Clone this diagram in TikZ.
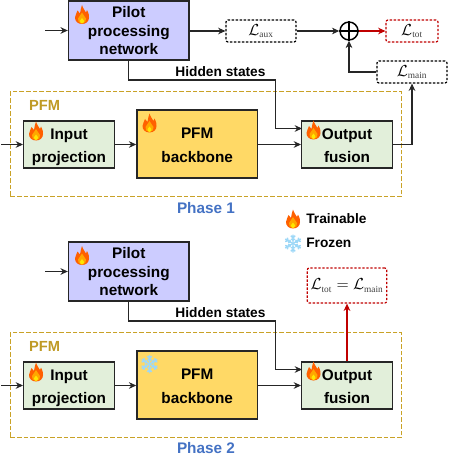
\documentclass[tikz,border=0pt]{standalone}
\usepackage{fontspec}
\newfontfamily\labelfont[BoldFont={Liberation Sans Bold}]{Liberation Sans}
\newfontfamily\subfont{Liberation Serif}
\usetikzlibrary{arrows.meta}
\definecolor{pilotblue}{HTML}{CCCCFF}
\definecolor{blockgreen}{HTML}{E2EFDA}
\definecolor{blockyellow}{HTML}{FFD966}
\definecolor{pfmgold}{HTML}{C9A227}
\definecolor{phaseblue}{HTML}{4472C4}
\definecolor{lossred}{HTML}{C00000}
\definecolor{frostblue}{HTML}{9ED8F7}
\newcommand{\lossname}[1]{\mathcal{L}_{\hbox{\subfont\fontsize{7}{7}\selectfont\color{black!75}#1}}}
\newcommand{\topstrut}[1]{\rule{0pt}{#1pt}}
\tikzset{
  block/.style={draw=black!85,line width=1.1pt,inner sep=0pt,align=center,font=\labelfont\bfseries\fontsize{11.5}{17}\selectfont,
    execute at end node={\rule[-2.4pt]{0pt}{0pt}}},
  pilotblock/.style={block,fill=pilotblue,minimum width=90.4pt,minimum height=44.3pt,font=\labelfont\bfseries\fontsize{11.5}{13.9}\selectfont},
  greenblock/.style={block,fill=blockgreen,minimum width=67.9pt,minimum height=35.3pt},
  yellowblock/.style={block,fill=blockyellow,minimum width=90.4pt,minimum height=51pt,font=\labelfont\bfseries\fontsize{11.5}{18}\selectfont},
  pfmbox/.style={draw=pfmgold,line width=1pt,dash pattern=on 3.5pt off 1.5pt,minimum width=293.3pt,minimum height=78.75pt,inner sep=0pt},
  lossbox/.style={draw=black,line width=.9pt,dash pattern=on 1.8pt off 1.2pt,rounded corners=1.5pt,minimum height=16.5pt,inner sep=0pt,font=\fontsize{13}{13}\selectfont},
  redloss/.style={lossbox,draw=lossred},
  conn/.style={draw=black!85,line width=.8pt,-{Stealth[length=5.5pt,width=5pt]}},
  redconn/.style={conn,draw=lossred,line width=.85pt,-{Stealth[length=5.5pt,width=5pt,fill=lossred]}},
  sumnode/.style={circle,draw=black,line width=1.1pt,minimum size=13.5pt,inner sep=0pt},
  smalltext/.style={font=\labelfont\bfseries\fontsize{10.3}{12}\selectfont,inner sep=0pt},
  pfmtext/.style={font=\labelfont\bfseries\fontsize{11}{12}\selectfont,text=pfmgold!95!black,inner sep=0pt},
  phasetext/.style={font=\labelfont\bfseries\fontsize{11.5}{12}\selectfont,text=phaseblue,inner sep=0pt},
  flame/.pic={
    \fill[orange!75!red] (0,9.5) .. controls (-4.5,9.5) and (-7,6.5) .. (-7,3) .. controls (-7,0) and (-5,-1) .. (-4.5,-4) .. controls (-3,-3) and (-2.5,-2) .. (-2,-1) .. controls (-1.5,-4) and (-1,-7) .. (0,-9.5) .. controls (1,-6) and (3,-4) .. (4,-2) .. controls (4.8,-2.5) and (5,-3.5) .. (5,-4.5) .. controls (7,-1) and (7,1.5) .. (7,3) .. controls (7,6.5) and (4.5,9.5) .. (0,9.5) -- cycle;
    \fill[orange!70!yellow] (0,9) .. controls (-3,9) and (-4.5,6.5) .. (-4,4) .. controls (-3.5,2) and (-1,1) .. (0,-2) .. controls (1,1) and (3.5,2) .. (4,4) .. controls (4.5,6.5) and (3,9) .. (0,9) -- cycle;
    \fill[yellow!90!orange] (0,9) .. controls (-1.8,9) and (-2.2,7) .. (-1.8,6) .. controls (-1.2,5) and (-.5,4.5) .. (0,3.5) .. controls (.5,4.5) and (1.2,5) .. (1.8,6) .. controls (2.2,7) and (1.8,9) .. (0,9) -- cycle;
  },
  snowflake/.pic={
    \foreach \a in {30,90,150,210,270,330} {
      \draw[frostblue,line width=1pt,rotate=\a] (0,0)--(9,0) (5.5,0)--(7.8,2.2) (5.5,0)--(7.8,-2.2) (3,0)--(4.6,1.7) (3,0)--(4.6,-1.7);
    }
  }
}
\begin{document}
\begin{tikzpicture}[x=.75pt,y=-.75pt]
\useasboundingbox (0,0) rectangle (449,456);
% phase 1
\begin{scope}
\node[pfmbox] (pfmA) at (205.8,144.2) {};
\node[pilotblock] (pilotA) at (128.8,30.5) {\topstrut{10.7}Pilot\\processing\\network};
\node[greenblock] (inputA) at (69,144.5) {\topstrut{12}Input\\projection};
\node[yellowblock] (backboneA) at (197.2,144) {\topstrut{12.2}PFM\\backbone};
\node[greenblock] (fusionA) at (347,144.5) {\topstrut{12}Output\\fusion};
\node[lossbox,minimum width=52.5pt] (auxA) at (261,31) {$\lossname{aux}$};
\node[redloss,minimum width=39pt] (totA) at (412,31) {$\lossname{tot}$};
\node[lossbox,minimum width=52.5pt] (mainA) at (412,72) {$\lossname{main}$};
\node[sumnode] (sumA) at (349,31) {};
\draw[line width=1.1pt] (sumA.north)--(sumA.south) (sumA.west)--(sumA.east);
\node[pfmtext] (pfmlabelA) at (44.5,105.5) {PFM};
\node[smalltext] (hiddenlabelA) at (220.5,71.5) {Hidden states};
\node[phasetext] (phaseA) at (206,208) {Phase 1};
\coordinate (pilotinA) at (45,30.5);
\coordinate (projinA) at (1,144.5);
\coordinate (hiddenA) at (275.7,80);
\coordinate (fusioninA) at (302,128.5);
\draw[conn] (pilotinA)--(pilotA);
\draw[conn] (projinA)--(inputA);
\draw[conn] (inputA)--(backboneA.west |- inputA);
\draw[conn] (backboneA.east |- fusionA)--(fusionA);
\draw[conn] (pilotA.south) |- (hiddenA) |- (fusioninA);
\draw[conn] (pilotA.east |- auxA)--(auxA);
\draw[conn] (auxA)--(sumA);
\draw[redconn] (sumA)--(totA);
\draw[conn] (mainA.west) -| (sumA.south);
\draw[conn] (fusionA.east) -| (mainA.south);
\pic at (82,14.5) {flame};
\pic at (36,131) {flame};
\pic at (149.5,123) {flame};
\pic at (313.5,130) {flame};
\end{scope}
% legend
\pic at (293,219) {flame};
\pic at (293,243.5) {snowflake};
\node[smalltext,anchor=west] (trainable) at (306,219) {Trainable};
\node[smalltext,anchor=west] (frozen) at (306,243) {Frozen};
% phase 2
\begin{scope}[shift={(0,241)}]
\node[pfmbox] (pfmB) at (205.8,144.2) {};
\node[pilotblock] (pilotB) at (128.8,30.5) {\topstrut{10.7}Pilot\\processing\\network};
\node[greenblock] (inputB) at (69,144.5) {\topstrut{12}Input\\projection};
\node[yellowblock] (backboneB) at (197.2,144) {\topstrut{12.2}PFM\\backbone};
\node[greenblock] (fusionB) at (347,144.5) {\topstrut{12}Output\\fusion};
\node[redloss,minimum width=59.6pt,minimum height=26.3pt] (totB) at (347,44.5) {$\lossname{tot}=\lossname{main}$};
\node[pfmtext] (pfmlabelB) at (44.5,105.5) {PFM};
\node[smalltext] (hiddenlabelB) at (220.5,71.5) {Hidden states};
\node[phasetext] (phaseB) at (206,207.5) {Phase 2};
\coordinate (pilotinB) at (45,30.5);
\coordinate (projinB) at (1,144.5);
\coordinate (hiddenB) at (275.7,80);
\coordinate (fusioninB) at (302,128.5);
\draw[conn] (pilotinB)--(pilotB);
\draw[conn] (projinB)--(inputB);
\draw[conn] (inputB)--(backboneB.west |- inputB);
\draw[conn] (backboneB.east |- fusionB)--(fusionB);
\draw[conn] (pilotB.south) |- (hiddenB) |- (fusioninB);
\draw[redconn] (fusionB)--(totB);
\pic at (82,14.5) {flame};
\pic at (36,131) {flame};
\pic at (149.5,123) {snowflake};
\pic at (313.5,130) {flame};
\end{scope}
\end{tikzpicture}
\end{document}
